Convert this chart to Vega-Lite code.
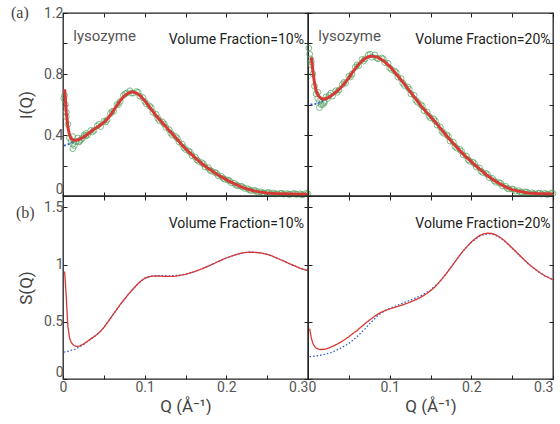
{
  "$schema": "https://vega.github.io/schema/vega-lite/v6.json",
  "autosize": {"type": "pad"},
  "padding": {"left": 10, "top": 4, "right": 0, "bottom": 0},
  "background": "white",
  "columns": 2,
  "spacing": 0,
  "bounds": "flush",
  "config": {
    "view": {"stroke": "#222", "strokeWidth": 1.3},
    "concat": {"spacing": 0},
    "axis": {
      "domain": false, "grid": false, "tickColor": "#222", "tickSize": -4, "tickWidth": 1,
      "labelFont": "Roboto", "labelFontSize": 14, "labelColor": "#555", "labelFlush": false, "labelOverlap": false,
      "titleFont": "Roboto", "titleFontSize": 17, "titleFontWeight": "normal", "titleColor": "#444"
    }
  },
  "datasets": {
    "d10": [
      {"q":0.001,"v":0.64},{"q":0.002,"v":0.66},{"q":0.003,"v":0.6},{"q":0.004,"v":0.55},{"q":0.006,"v":0.47},{"q":0.008,"v":0.38},
      {"q":0.010,"v":0.36},{"q":0.012,"v":0.34},{"q":0.012,"v":0.31},{"q":0.014,"v":0.33},{"q":0.016,"v":0.355},{"q":0.018,"v":0.38},
      {"q":0.020,"v":0.36},{"q":0.022,"v":0.37},{"q":0.024,"v":0.38},{"q":0.026,"v":0.4},{"q":0.028,"v":0.395},{"q":0.030,"v":0.4},
      {"q":0.034,"v":0.43},{"q":0.038,"v":0.43},{"q":0.042,"v":0.46},{"q":0.046,"v":0.455},{"q":0.050,"v":0.49},{"q":0.054,"v":0.5},
      {"q":0.058,"v":0.54},{"q":0.062,"v":0.555},{"q":0.066,"v":0.6},{"q":0.070,"v":0.62},{"q":0.074,"v":0.66},{"q":0.078,"v":0.675},
      {"q":0.082,"v":0.69},{"q":0.086,"v":0.675},{"q":0.090,"v":0.685},{"q":0.094,"v":0.655},{"q":0.098,"v":0.645},{"q":0.102,"v":0.605},
      {"q":0.106,"v":0.59},{"q":0.110,"v":0.55},{"q":0.114,"v":0.535},{"q":0.118,"v":0.495},{"q":0.122,"v":0.485},{"q":0.126,"v":0.45},
      {"q":0.130,"v":0.435},{"q":0.134,"v":0.4},{"q":0.138,"v":0.39},{"q":0.142,"v":0.355},{"q":0.146,"v":0.34},{"q":0.150,"v":0.305},
      {"q":0.154,"v":0.295},{"q":0.158,"v":0.265},{"q":0.162,"v":0.255},{"q":0.166,"v":0.228},{"q":0.170,"v":0.218},{"q":0.174,"v":0.19},
      {"q":0.178,"v":0.185},{"q":0.182,"v":0.163},{"q":0.186,"v":0.155},{"q":0.190,"v":0.134},{"q":0.194,"v":0.129},{"q":0.198,"v":0.11},
      {"q":0.202,"v":0.104},{"q":0.206,"v":0.087},{"q":0.210,"v":0.083},{"q":0.214,"v":0.067},{"q":0.218,"v":0.064},{"q":0.222,"v":0.05},
      {"q":0.226,"v":0.048},{"q":0.230,"v":0.036},{"q":0.234,"v":0.036},{"q":0.238,"v":0.027},{"q":0.242,"v":0.028},{"q":0.246,"v":0.02},
      {"q":0.250,"v":0.022},{"q":0.254,"v":0.016},{"q":0.258,"v":0.019},{"q":0.262,"v":0.014},{"q":0.266,"v":0.017},{"q":0.270,"v":0.012},
      {"q":0.274,"v":0.016},{"q":0.278,"v":0.011},{"q":0.282,"v":0.015},{"q":0.286,"v":0.01},{"q":0.290,"v":0.014},{"q":0.294,"v":0.009},
      {"q":0.298,"v":0.018},
      {"q":0.004,"v":0.52},{"q":0.012,"v":0.39},{"q":0.020,"v":0.355},{"q":0.028,"v":0.41},{"q":0.036,"v":0.42},{"q":0.044,"v":0.47},
      {"q":0.052,"v":0.485},{"q":0.060,"v":0.555},{"q":0.068,"v":0.6},{"q":0.076,"v":0.67},{"q":0.084,"v":0.675},{"q":0.092,"v":0.68},
      {"q":0.100,"v":0.62},{"q":0.108,"v":0.58},{"q":0.116,"v":0.51},{"q":0.124,"v":0.472},{"q":0.132,"v":0.412},{"q":0.140,"v":0.377},
      {"q":0.148,"v":0.318},{"q":0.156,"v":0.286},{"q":0.164,"v":0.236},{"q":0.172,"v":0.21},{"q":0.180,"v":0.169},{"q":0.188,"v":0.149},
      {"q":0.196,"v":0.116},{"q":0.204,"v":0.1},{"q":0.212,"v":0.072},{"q":0.220,"v":0.06},{"q":0.228,"v":0.041},{"q":0.236,"v":0.034},
      {"q":0.244,"v":0.021},{"q":0.252,"v":0.022},{"q":0.260,"v":0.013},{"q":0.268,"v":0.018},{"q":0.276,"v":0.011},{"q":0.284,"v":0.016},
      {"q":0.292,"v":0.009},{"q":0.300,"v":0.014}
    ],
    "f10": [
      {"q":0.002,"v":0.7},{"q":0.004,"v":0.55},{"q":0.006,"v":0.45},{"q":0.008,"v":0.4},{"q":0.010,"v":0.375},{"q":0.013,"v":0.365},
      {"q":0.016,"v":0.366},{"q":0.020,"v":0.372},{"q":0.025,"v":0.385},{"q":0.030,"v":0.405},{"q":0.035,"v":0.425},{"q":0.040,"v":0.445},
      {"q":0.045,"v":0.462},{"q":0.050,"v":0.482},{"q":0.055,"v":0.51},{"q":0.060,"v":0.545},{"q":0.065,"v":0.585},{"q":0.070,"v":0.625},
      {"q":0.075,"v":0.655},{"q":0.080,"v":0.675},{"q":0.085,"v":0.683},{"q":0.090,"v":0.675},{"q":0.095,"v":0.655},{"q":0.100,"v":0.625},
      {"q":0.105,"v":0.59},{"q":0.110,"v":0.555},{"q":0.115,"v":0.52},{"q":0.120,"v":0.49},{"q":0.125,"v":0.46},{"q":0.130,"v":0.43},
      {"q":0.135,"v":0.4},{"q":0.140,"v":0.37},{"q":0.145,"v":0.34},{"q":0.150,"v":0.31},{"q":0.155,"v":0.285},{"q":0.160,"v":0.26},
      {"q":0.165,"v":0.235},{"q":0.170,"v":0.213},{"q":0.175,"v":0.192},{"q":0.180,"v":0.173},{"q":0.185,"v":0.155},{"q":0.190,"v":0.138},
      {"q":0.195,"v":0.122},{"q":0.200,"v":0.107},{"q":0.205,"v":0.093},{"q":0.210,"v":0.08},{"q":0.215,"v":0.068},{"q":0.220,"v":0.057},
      {"q":0.225,"v":0.047},{"q":0.230,"v":0.039},{"q":0.235,"v":0.032},{"q":0.240,"v":0.027},{"q":0.245,"v":0.023},{"q":0.250,"v":0.02},
      {"q":0.260,"v":0.016},{"q":0.270,"v":0.014},{"q":0.280,"v":0.013},{"q":0.290,"v":0.012},{"q":0.300,"v":0.011}
    ],
    "b10": [
      {"q":0.001,"v":0.33},{"q":0.005,"v":0.335},{"q":0.009,"v":0.345},{"q":0.013,"v":0.36},{"q":0.016,"v":0.366}
    ],
    "d20": [
      {"q":0.001,"v":0.97},{"q":0.002,"v":0.93},{"q":0.003,"v":0.9},{"q":0.004,"v":0.86},{"q":0.006,"v":0.8},{"q":0.008,"v":0.72},
      {"q":0.010,"v":0.67},{"q":0.012,"v":0.64},{"q":0.014,"v":0.62},{"q":0.014,"v":0.58},{"q":0.016,"v":0.6},{"q":0.018,"v":0.6},
      {"q":0.020,"v":0.62},{"q":0.022,"v":0.65},{"q":0.024,"v":0.64},{"q":0.026,"v":0.66},{"q":0.030,"v":0.655},{"q":0.034,"v":0.69},
      {"q":0.038,"v":0.695},{"q":0.042,"v":0.73},{"q":0.046,"v":0.74},{"q":0.050,"v":0.785},{"q":0.054,"v":0.8},{"q":0.058,"v":0.845},
      {"q":0.062,"v":0.855},{"q":0.066,"v":0.895},{"q":0.070,"v":0.9},{"q":0.074,"v":0.925},{"q":0.078,"v":0.91},{"q":0.082,"v":0.925},
      {"q":0.086,"v":0.9},{"q":0.090,"v":0.905},{"q":0.094,"v":0.875},{"q":0.098,"v":0.87},{"q":0.102,"v":0.83},{"q":0.106,"v":0.82},
      {"q":0.110,"v":0.78},{"q":0.114,"v":0.77},{"q":0.118,"v":0.725},{"q":0.122,"v":0.715},{"q":0.126,"v":0.67},{"q":0.130,"v":0.66},
      {"q":0.134,"v":0.615},{"q":0.138,"v":0.6},{"q":0.142,"v":0.56},{"q":0.146,"v":0.55},{"q":0.150,"v":0.512},{"q":0.154,"v":0.505},
      {"q":0.158,"v":0.465},{"q":0.162,"v":0.452},{"q":0.166,"v":0.412},{"q":0.170,"v":0.4},{"q":0.174,"v":0.36},{"q":0.178,"v":0.352},
      {"q":0.182,"v":0.314},{"q":0.186,"v":0.305},{"q":0.190,"v":0.27},{"q":0.194,"v":0.262},{"q":0.198,"v":0.228},{"q":0.202,"v":0.222},
      {"q":0.206,"v":0.19},{"q":0.210,"v":0.184},{"q":0.214,"v":0.154},{"q":0.218,"v":0.148},{"q":0.222,"v":0.12},{"q":0.226,"v":0.115},
      {"q":0.230,"v":0.09},{"q":0.234,"v":0.088},{"q":0.238,"v":0.066},{"q":0.242,"v":0.064},{"q":0.246,"v":0.046},{"q":0.250,"v":0.046},
      {"q":0.254,"v":0.032},{"q":0.258,"v":0.035},{"q":0.262,"v":0.024},{"q":0.266,"v":0.027},{"q":0.270,"v":0.017},{"q":0.274,"v":0.021},
      {"q":0.278,"v":0.014},{"q":0.282,"v":0.018},{"q":0.286,"v":0.012},{"q":0.290,"v":0.017},{"q":0.294,"v":0.011},{"q":0.298,"v":0.02},
      {"q":0.004,"v":0.88},{"q":0.012,"v":0.68},{"q":0.020,"v":0.61},{"q":0.028,"v":0.675},{"q":0.036,"v":0.68},{"q":0.044,"v":0.745},
      {"q":0.052,"v":0.78},{"q":0.060,"v":0.86},{"q":0.068,"v":0.885},{"q":0.076,"v":0.93},{"q":0.084,"v":0.905},{"q":0.092,"v":0.9},
      {"q":0.100,"v":0.84},{"q":0.108,"v":0.81},{"q":0.116,"v":0.74},{"q":0.124,"v":0.7},{"q":0.132,"v":0.628},{"q":0.140,"v":0.59},
      {"q":0.148,"v":0.524},{"q":0.156,"v":0.492},{"q":0.164,"v":0.424},{"q":0.172,"v":0.39},{"q":0.180,"v":0.325},{"q":0.188,"v":0.294},
      {"q":0.196,"v":0.238},{"q":0.204,"v":0.212},{"q":0.212,"v":0.162},{"q":0.220,"v":0.14},{"q":0.228,"v":0.1},{"q":0.236,"v":0.083},
      {"q":0.244,"v":0.05},{"q":0.252,"v":0.043},{"q":0.260,"v":0.025},{"q":0.268,"v":0.026},{"q":0.276,"v":0.015},{"q":0.284,"v":0.019},
      {"q":0.292,"v":0.011},{"q":0.300,"v":0.017}
    ],
    "f20": [
      {"q":0.004,"v":0.91},{"q":0.006,"v":0.82},{"q":0.008,"v":0.74},{"q":0.010,"v":0.69},{"q":0.013,"v":0.655},{"q":0.016,"v":0.64},
      {"q":0.020,"v":0.635},{"q":0.025,"v":0.645},{"q":0.030,"v":0.663},{"q":0.035,"v":0.685},{"q":0.040,"v":0.71},{"q":0.045,"v":0.74},
      {"q":0.050,"v":0.775},{"q":0.055,"v":0.815},{"q":0.060,"v":0.85},{"q":0.065,"v":0.88},{"q":0.070,"v":0.903},{"q":0.075,"v":0.915},
      {"q":0.080,"v":0.917},{"q":0.085,"v":0.91},{"q":0.090,"v":0.895},{"q":0.095,"v":0.875},{"q":0.100,"v":0.85},{"q":0.105,"v":0.82},
      {"q":0.110,"v":0.787},{"q":0.115,"v":0.755},{"q":0.120,"v":0.72},{"q":0.125,"v":0.685},{"q":0.130,"v":0.65},{"q":0.135,"v":0.615},
      {"q":0.140,"v":0.58},{"q":0.145,"v":0.55},{"q":0.150,"v":0.52},{"q":0.155,"v":0.49},{"q":0.160,"v":0.458},{"q":0.165,"v":0.425},
      {"q":0.170,"v":0.393},{"q":0.175,"v":0.362},{"q":0.180,"v":0.332},{"q":0.185,"v":0.303},{"q":0.190,"v":0.275},{"q":0.195,"v":0.25},
      {"q":0.200,"v":0.225},{"q":0.205,"v":0.2},{"q":0.210,"v":0.178},{"q":0.215,"v":0.155},{"q":0.220,"v":0.133},{"q":0.225,"v":0.113},
      {"q":0.230,"v":0.095},{"q":0.235,"v":0.08},{"q":0.240,"v":0.065},{"q":0.245,"v":0.052},{"q":0.250,"v":0.042},{"q":0.255,"v":0.035},
      {"q":0.260,"v":0.029},{"q":0.270,"v":0.02},{"q":0.280,"v":0.016},{"q":0.290,"v":0.014},{"q":0.300,"v":0.013}
    ],
    "b20": [
      {"q":0.003,"v":0.6},{"q":0.008,"v":0.603},{"q":0.013,"v":0.61},{"q":0.018,"v":0.625},{"q":0.022,"v":0.636}
    ],
    "s10": [
      {"q":0.002,"v":0.94},{"q":0.003,"v":0.83},{"q":0.004,"v":0.72},{"q":0.005,"v":0.58},{"q":0.006,"v":0.46},{"q":0.008,"v":0.36},
      {"q":0.010,"v":0.32},{"q":0.013,"v":0.295},{"q":0.016,"v":0.285},{"q":0.020,"v":0.288},{"q":0.025,"v":0.305},{"q":0.030,"v":0.33},
      {"q":0.035,"v":0.355},{"q":0.040,"v":0.38},{"q":0.045,"v":0.41},{"q":0.050,"v":0.45},{"q":0.055,"v":0.5},{"q":0.060,"v":0.55},
      {"q":0.065,"v":0.6},{"q":0.070,"v":0.65},{"q":0.075,"v":0.695},{"q":0.080,"v":0.74},{"q":0.085,"v":0.78},{"q":0.090,"v":0.82},
      {"q":0.095,"v":0.855},{"q":0.100,"v":0.88},{"q":0.105,"v":0.895},{"q":0.110,"v":0.9},{"q":0.115,"v":0.902},{"q":0.120,"v":0.9},
      {"q":0.125,"v":0.898},{"q":0.130,"v":0.897},{"q":0.135,"v":0.898},{"q":0.140,"v":0.902},{"q":0.145,"v":0.908},{"q":0.150,"v":0.915},
      {"q":0.155,"v":0.925},{"q":0.160,"v":0.937},{"q":0.165,"v":0.95},{"q":0.170,"v":0.963},{"q":0.175,"v":0.978},{"q":0.180,"v":0.993},
      {"q":0.185,"v":1.01},{"q":0.190,"v":1.027},{"q":0.195,"v":1.043},{"q":0.200,"v":1.058},{"q":0.205,"v":1.071},{"q":0.210,"v":1.083},
      {"q":0.215,"v":1.094},{"q":0.220,"v":1.103},{"q":0.225,"v":1.108},{"q":0.230,"v":1.11},{"q":0.235,"v":1.108},{"q":0.240,"v":1.104},
      {"q":0.245,"v":1.098},{"q":0.250,"v":1.09},{"q":0.255,"v":1.078},{"q":0.260,"v":1.063},{"q":0.265,"v":1.047},{"q":0.270,"v":1.032},
      {"q":0.275,"v":1.016},{"q":0.280,"v":1.0},{"q":0.285,"v":0.985},{"q":0.290,"v":0.97},{"q":0.295,"v":0.958},{"q":0.300,"v":0.947}
    ],
    "h10": [
      {"q":0.001,"v":0.235},{"q":0.005,"v":0.24},{"q":0.010,"v":0.25},{"q":0.015,"v":0.262},{"q":0.020,"v":0.28},{"q":0.025,"v":0.3},
      {"q":0.030,"v":0.328},{"q":0.035,"v":0.355},{"q":0.040,"v":0.38},{"q":0.045,"v":0.41},{"q":0.050,"v":0.45},{"q":0.060,"v":0.55},
      {"q":0.070,"v":0.65},{"q":0.080,"v":0.74},{"q":0.090,"v":0.82},{"q":0.100,"v":0.882},{"q":0.110,"v":0.902},{"q":0.120,"v":0.905},
      {"q":0.130,"v":0.902},{"q":0.140,"v":0.906},{"q":0.150,"v":0.917},{"q":0.160,"v":0.937},{"q":0.170,"v":0.963},{"q":0.180,"v":0.993},
      {"q":0.190,"v":1.027},{"q":0.200,"v":1.058},{"q":0.210,"v":1.083},{"q":0.220,"v":1.103},{"q":0.230,"v":1.11},{"q":0.240,"v":1.104},
      {"q":0.250,"v":1.09},{"q":0.260,"v":1.063},{"q":0.270,"v":1.032},{"q":0.280,"v":1.0},{"q":0.290,"v":0.97},{"q":0.300,"v":0.947}
    ],
    "s20": [
      {"q":0.002,"v":0.44},{"q":0.004,"v":0.36},{"q":0.006,"v":0.31},{"q":0.008,"v":0.285},{"q":0.010,"v":0.27},{"q":0.013,"v":0.262},
      {"q":0.016,"v":0.258},{"q":0.020,"v":0.26},{"q":0.025,"v":0.27},{"q":0.030,"v":0.285},{"q":0.035,"v":0.302},{"q":0.040,"v":0.322},
      {"q":0.045,"v":0.345},{"q":0.050,"v":0.37},{"q":0.055,"v":0.397},{"q":0.060,"v":0.425},{"q":0.065,"v":0.455},{"q":0.070,"v":0.485},
      {"q":0.075,"v":0.513},{"q":0.080,"v":0.54},{"q":0.085,"v":0.565},{"q":0.090,"v":0.585},{"q":0.095,"v":0.6},{"q":0.100,"v":0.612},
      {"q":0.105,"v":0.623},{"q":0.110,"v":0.634},{"q":0.115,"v":0.646},{"q":0.120,"v":0.658},{"q":0.125,"v":0.672},{"q":0.130,"v":0.687},
      {"q":0.135,"v":0.703},{"q":0.140,"v":0.722},{"q":0.145,"v":0.745},{"q":0.150,"v":0.772},{"q":0.155,"v":0.803},{"q":0.160,"v":0.84},
      {"q":0.165,"v":0.882},{"q":0.170,"v":0.928},{"q":0.175,"v":0.975},{"q":0.180,"v":1.025},{"q":0.185,"v":1.075},{"q":0.190,"v":1.12},
      {"q":0.195,"v":1.16},{"q":0.200,"v":1.198},{"q":0.205,"v":1.228},{"q":0.210,"v":1.253},{"q":0.215,"v":1.268},{"q":0.220,"v":1.275},
      {"q":0.225,"v":1.272},{"q":0.230,"v":1.26},{"q":0.235,"v":1.24},{"q":0.240,"v":1.213},{"q":0.245,"v":1.18},{"q":0.250,"v":1.145},
      {"q":0.255,"v":1.11},{"q":0.260,"v":1.075},{"q":0.265,"v":1.04},{"q":0.270,"v":1.007},{"q":0.275,"v":0.977},{"q":0.280,"v":0.95},
      {"q":0.285,"v":0.925},{"q":0.290,"v":0.903},{"q":0.295,"v":0.885},{"q":0.300,"v":0.868}
    ],
    "h20": [
      {"q":0.002,"v":0.195},{"q":0.010,"v":0.2},{"q":0.020,"v":0.215},{"q":0.030,"v":0.235},{"q":0.040,"v":0.27},{"q":0.050,"v":0.31},
      {"q":0.060,"v":0.37},{"q":0.070,"v":0.44},{"q":0.075,"v":0.48},{"q":0.080,"v":0.515},{"q":0.085,"v":0.55},{"q":0.090,"v":0.58},
      {"q":0.095,"v":0.6},{"q":0.100,"v":0.617},{"q":0.110,"v":0.645},{"q":0.120,"v":0.675},{"q":0.130,"v":0.703},{"q":0.140,"v":0.735},
      {"q":0.150,"v":0.778},{"q":0.160,"v":0.84},{"q":0.170,"v":0.928},{"q":0.180,"v":1.025},{"q":0.190,"v":1.12},{"q":0.200,"v":1.195},
      {"q":0.210,"v":1.248},{"q":0.215,"v":1.262},{"q":0.220,"v":1.268},{"q":0.225,"v":1.268},{"q":0.230,"v":1.256},{"q":0.240,"v":1.21},
      {"q":0.250,"v":1.143},{"q":0.260,"v":1.073},{"q":0.270,"v":1.005},{"q":0.280,"v":0.948},{"q":0.290,"v":0.902},{"q":0.300,"v":0.867}
    ]
  },
  "concat": [
    {
      "width": 245, "height": 183,
      "resolve": {"axis": {"x": "independent", "y": "independent"}},
      "layer": [
        {"data": {"name": "d10"}, "mark": {"type": "point", "shape": "circle", "size": 34, "filled": false, "color": "#4aa05a", "strokeWidth": 1, "opacity": 0.7},
         "encoding": {
           "x": {"field": "q", "type": "quantitative", "scale": {"domain": [0, 0.3]}, "axis": {"orient": "bottom", "values": [0, 0.05, 0.1, 0.15, 0.2, 0.25, 0.3], "labels": false, "title": null}},
           "y": {"field": "v", "type": "quantitative", "scale": {"domain": [0, 1.2]}, "axis": {"orient": "left", "values": [0, 0.2, 0.4, 0.6, 0.8, 1, 1.2], "format": "~g", "labelPadding": 4, "labelExpr": "indexof([0,0.4,0.8,1.2], datum.value) >= 0 ? datum.label : ''", "labelBaseline": {"condition": {"test": "datum.value === 0", "value": "bottom"}, "value": "middle"}, "title": "I(Q)", "titlePadding": 8}}
         }},
        {"data": {"name": "b10"}, "mark": {"type": "line", "color": "#2f5fd0", "strokeDash": [2, 2], "strokeWidth": 1.8},
         "encoding": {"x": {"field": "q", "type": "quantitative", "axis": null}, "y": {"field": "v", "type": "quantitative", "axis": null}}},
        {"data": {"name": "f10"}, "mark": {"type": "line", "color": "#d63a35", "strokeWidth": 3},
         "encoding": {
           "x": {"field": "q", "type": "quantitative", "axis": {"orient": "top", "values": [0, 0.05, 0.1, 0.15, 0.2, 0.25, 0.3], "labels": false, "title": null}},
           "y": {"field": "v", "type": "quantitative", "axis": {"orient": "right", "values": [0, 0.2, 0.4, 0.6, 0.8, 1, 1.2], "labels": false, "title": null}}
         }},
        {"data": {"values": [{}]}, "mark": {"type": "text", "text": "lysozyme", "align": "left", "baseline": "alphabetic", "font": "Roboto", "fontSize": 15, "color": "#555"},
         "encoding": {"x": {"datum": 0.0126, "type": "quantitative", "axis": null}, "y": {"datum": 1.016, "type": "quantitative", "axis": null}}},
        {"data": {"values": [{}]}, "mark": {"type": "text", "text": "Volume Fraction=10%", "align": "right", "baseline": "alphabetic", "font": "Roboto", "fontSize": 14, "color": "#222"},
         "encoding": {"x": {"datum": 0.295, "type": "quantitative", "axis": null}, "y": {"datum": 0.997, "type": "quantitative", "axis": null}}},
        {"data": {"values": [{}]}, "mark": {"type": "text", "text": "(a)", "align": "left", "baseline": "alphabetic", "font": "Liberation Serif", "fontSize": 16, "color": "#444"},
         "encoding": {"x": {"datum": -0.0637, "type": "quantitative", "axis": null}, "y": {"datum": 1.167, "type": "quantitative", "axis": null}}}
      ]
    },
    {
      "width": 245, "height": 183,
      "resolve": {"axis": {"x": "independent", "y": "independent"}},
      "layer": [
        {"data": {"name": "d20"}, "mark": {"type": "point", "shape": "circle", "size": 34, "filled": false, "color": "#4aa05a", "strokeWidth": 1, "opacity": 0.7},
         "encoding": {
           "x": {"field": "q", "type": "quantitative", "scale": {"domain": [0, 0.3]}, "axis": {"orient": "bottom", "values": [0, 0.05, 0.1, 0.15, 0.2, 0.25, 0.3], "labels": false, "title": null}},
           "y": {"field": "v", "type": "quantitative", "scale": {"domain": [0, 1.2]}, "axis": {"orient": "left", "values": [0, 0.2, 0.4, 0.6, 0.8, 1, 1.2], "labels": false, "title": null}}
         }},
        {"data": {"name": "b20"}, "mark": {"type": "line", "color": "#2f5fd0", "strokeDash": [2, 2], "strokeWidth": 1.8},
         "encoding": {"x": {"field": "q", "type": "quantitative", "axis": null}, "y": {"field": "v", "type": "quantitative", "axis": null}}},
        {"data": {"name": "f20"}, "mark": {"type": "line", "color": "#d63a35", "strokeWidth": 3},
         "encoding": {
           "x": {"field": "q", "type": "quantitative", "axis": {"orient": "top", "values": [0, 0.05, 0.1, 0.15, 0.2, 0.25, 0.3], "labels": false, "title": null}},
           "y": {"field": "v", "type": "quantitative", "axis": {"orient": "right", "values": [0, 0.2, 0.4, 0.6, 0.8, 1, 1.2], "labels": false, "title": null}}
         }},
        {"data": {"values": [{}]}, "mark": {"type": "text", "text": "lysozyme", "align": "left", "baseline": "alphabetic", "font": "Roboto", "fontSize": 15, "color": "#555"},
         "encoding": {"x": {"datum": 0.0126, "type": "quantitative", "axis": null}, "y": {"datum": 1.016, "type": "quantitative", "axis": null}}},
        {"data": {"values": [{}]}, "mark": {"type": "text", "text": "Volume Fraction=20%", "align": "right", "baseline": "alphabetic", "font": "Roboto", "fontSize": 14, "color": "#222"},
         "encoding": {"x": {"datum": 0.297, "type": "quantitative", "axis": null}, "y": {"datum": 0.997, "type": "quantitative", "axis": null}}}
      ]
    },
    {
      "width": 245, "height": 183,
      "resolve": {"axis": {"x": "independent", "y": "independent"}},
      "layer": [
        {"data": {"name": "h10"}, "mark": {"type": "line", "color": "#2f5fd0", "strokeDash": [1.5, 2], "strokeWidth": 1.3},
         "encoding": {
           "x": {"field": "q", "type": "quantitative", "scale": {"domain": [0, 0.3]}, "axis": {"orient": "bottom", "values": [0, 0.05, 0.1, 0.15, 0.2, 0.25, 0.3], "format": "~g", "labelPadding": 5, "labelExpr": "indexof([0,0.1,0.2,0.3], datum.value) >= 0 ? datum.label : ''", "labelAlign": {"condition": {"test": "datum.value === 0.3", "value": "right"}, "value": "center"}, "title": "Q (Å⁻¹)", "titlePadding": 4}},
           "y": {"field": "v", "type": "quantitative", "scale": {"domain": [0, 1.5]}, "axis": {"orient": "left", "values": [0, 0.5, 1, 1.5], "format": "~g", "labelPadding": 4, "labelFlush": true, "title": "S(Q)", "titlePadding": 8}}
         }},
        {"data": {"name": "s10"}, "mark": {"type": "line", "color": "#d63a35", "strokeWidth": 1.3},
         "encoding": {
           "x": {"field": "q", "type": "quantitative", "axis": {"orient": "top", "values": [0, 0.05, 0.1, 0.15, 0.2, 0.25, 0.3], "labels": false, "title": null}},
           "y": {"field": "v", "type": "quantitative", "axis": {"orient": "right", "values": [0, 0.5, 1, 1.5], "labels": false, "title": null}}
         }},
        {"data": {"values": [{}]}, "mark": {"type": "text", "text": "Volume Fraction=10%", "align": "right", "baseline": "alphabetic", "font": "Roboto", "fontSize": 14, "color": "#222"},
         "encoding": {"x": {"datum": 0.295, "type": "quantitative", "axis": null}, "y": {"datum": 1.323, "type": "quantitative", "axis": null}}},
        {"data": {"values": [{}]}, "mark": {"type": "text", "text": "(b)", "align": "left", "baseline": "alphabetic", "font": "Liberation Serif", "fontSize": 16, "color": "#444"},
         "encoding": {"x": {"datum": -0.0575, "type": "quantitative", "axis": null}, "y": {"datum": 1.41, "type": "quantitative", "axis": null}}}
      ]
    },
    {
      "width": 245, "height": 183,
      "resolve": {"axis": {"x": "independent", "y": "independent"}},
      "layer": [
        {"data": {"name": "h20"}, "mark": {"type": "line", "color": "#2f5fd0", "strokeDash": [1.5, 2], "strokeWidth": 1.3},
         "encoding": {
           "x": {"field": "q", "type": "quantitative", "scale": {"domain": [0, 0.3]}, "axis": {"orient": "bottom", "values": [0, 0.05, 0.1, 0.15, 0.2, 0.25, 0.3], "format": "~g", "labelPadding": 5, "labelFlush": true, "labelExpr": "indexof([0,0.1,0.2,0.3], datum.value) >= 0 ? datum.label : ''", "title": "Q (Å⁻¹)", "titlePadding": 4}},
           "y": {"field": "v", "type": "quantitative", "scale": {"domain": [0, 1.5]}, "axis": {"orient": "left", "values": [0, 0.5, 1, 1.5], "labels": false, "title": null}}
         }},
        {"data": {"name": "s20"}, "mark": {"type": "line", "color": "#d63a35", "strokeWidth": 1.3},
         "encoding": {
           "x": {"field": "q", "type": "quantitative", "axis": {"orient": "top", "values": [0, 0.05, 0.1, 0.15, 0.2, 0.25, 0.3], "labels": false, "title": null}},
           "y": {"field": "v", "type": "quantitative", "axis": {"orient": "right", "values": [0, 0.5, 1, 1.5], "labels": false, "title": null}}
         }},
        {"data": {"values": [{}]}, "mark": {"type": "text", "text": "Volume Fraction=20%", "align": "right", "baseline": "alphabetic", "font": "Roboto", "fontSize": 14, "color": "#222"},
         "encoding": {"x": {"datum": 0.297, "type": "quantitative", "axis": null}, "y": {"datum": 1.323, "type": "quantitative", "axis": null}}}
      ]
    }
  ]
}
